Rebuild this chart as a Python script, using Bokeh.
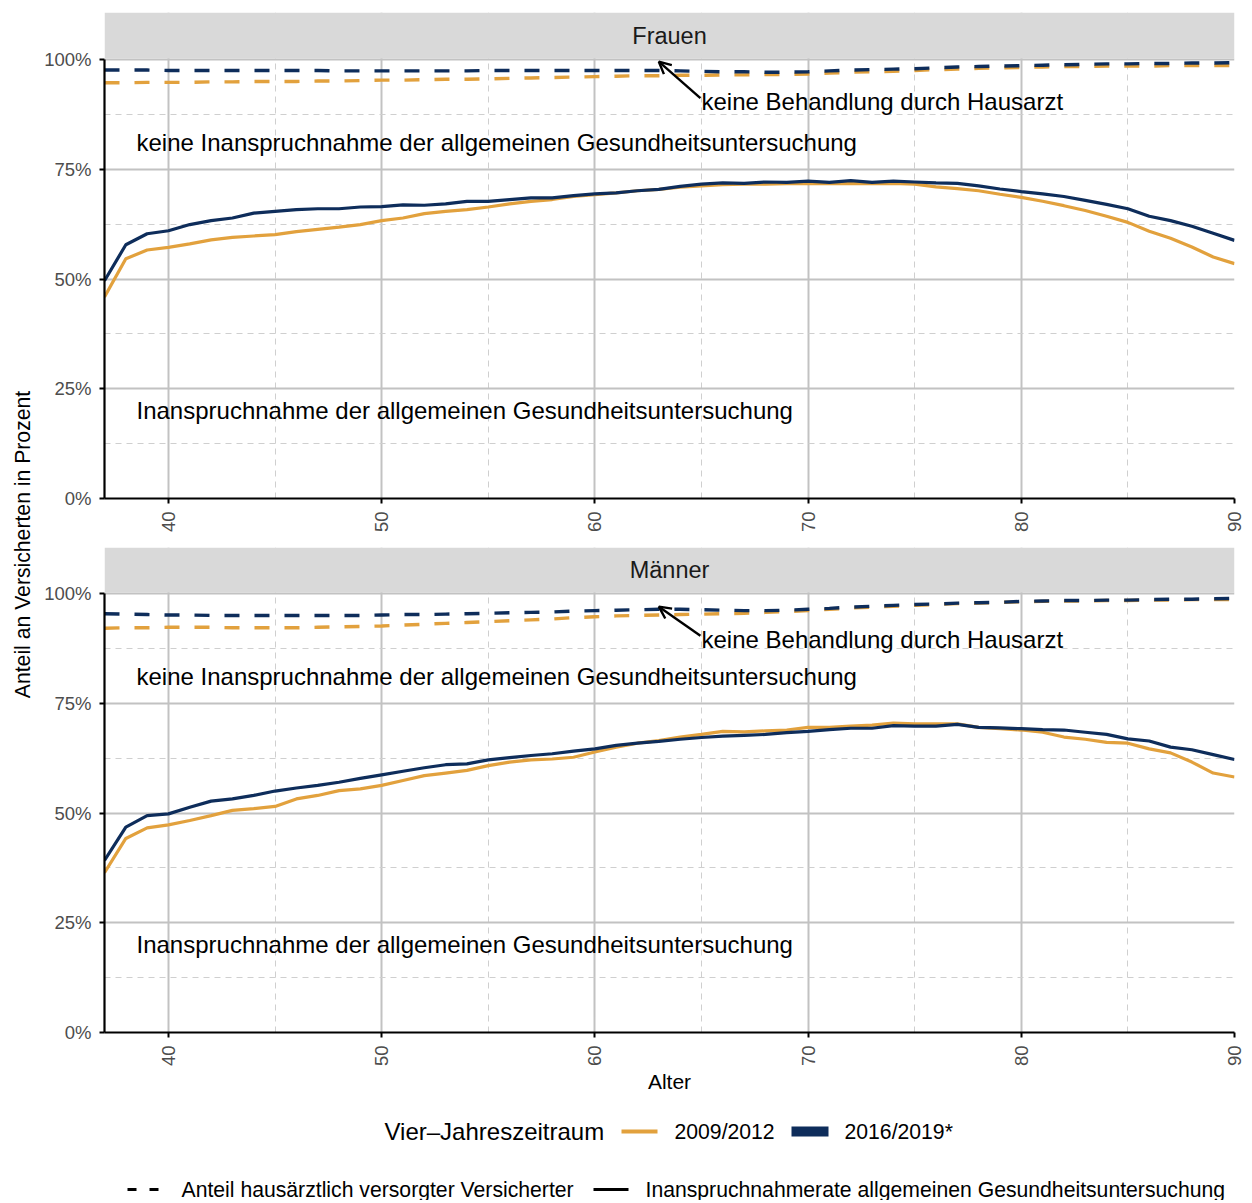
import math
from bokeh.plotting import figure
from bokeh.layouts import column, row
from bokeh.models import Range1d, FixedTicker, Arrow, OpenHead, BoxAnnotation, Label
from bokeh.core.properties import value
from bokeh.embed import file_html
from bokeh.resources import INLINE

# ---------------- data ----------------
ages = list(range(37, 91))

frauen_rate_2009 = [45.9, 54.6, 56.6, 57.2, 58.0, 58.9, 59.5, 59.8, 60.1, 60.8, 61.3, 61.8, 62.4, 63.3,
                    63.9, 64.9, 65.4, 65.8, 66.4, 67.1, 67.7, 68.1, 68.8, 69.2, 69.6, 70.1, 70.4,
                    70.9, 71.2, 71.5, 71.6, 71.6, 71.7, 71.8, 71.7, 71.8, 71.7, 71.8, 71.6, 71.0,
                    70.6, 70.1, 69.3, 68.6, 67.7, 66.7, 65.6, 64.3, 62.9, 60.9, 59.3, 57.3, 55.0, 53.5]
frauen_rate_2016 = [49.6, 57.8, 60.3, 61.0, 62.4, 63.3, 63.9, 65.0, 65.4, 65.8, 66.0, 66.0, 66.4, 66.5,
                    66.9, 66.8, 67.1, 67.7, 67.7, 68.1, 68.5, 68.5, 69.0, 69.4, 69.6, 70.1, 70.4,
                    71.1, 71.6, 71.9, 71.8, 72.1, 72.0, 72.3, 72.0, 72.4, 72.0, 72.3, 72.1, 71.9,
                    71.8, 71.2, 70.5, 69.9, 69.4, 68.8, 67.9, 67.0, 66.0, 64.3, 63.3, 62.0, 60.4, 58.8]
frauen_ha_2009 = [94.7, 94.7, 94.8, 94.8, 94.8, 94.9, 94.9, 95.0, 95.0, 95.0, 95.1, 95.1, 95.2, 95.3,
                  95.3, 95.4, 95.5, 95.5, 95.6, 95.7, 95.8, 95.9, 96.0, 96.1, 96.2, 96.3, 96.3,
                  96.4, 96.4, 96.5, 96.5, 96.6, 96.6, 96.7, 96.9, 97.1, 97.2, 97.3, 97.5, 97.7,
                  97.8, 98.0, 98.1, 98.2, 98.3, 98.4, 98.4, 98.5, 98.5, 98.5, 98.6, 98.6, 98.6, 98.6]
frauen_ha_2016 = [97.6, 97.6, 97.6, 97.5, 97.5, 97.5, 97.5, 97.5, 97.5, 97.5, 97.5, 97.4, 97.4, 97.4,
                  97.4, 97.4, 97.4, 97.4, 97.5, 97.5, 97.5, 97.5, 97.5, 97.5, 97.5, 97.5, 97.5,
                  97.4, 97.3, 97.2, 97.2, 97.1, 97.1, 97.2, 97.4, 97.6, 97.7, 97.8, 97.9, 98.1,
                  98.3, 98.4, 98.5, 98.6, 98.7, 98.8, 98.9, 99.0, 99.0, 99.1, 99.1, 99.2, 99.2, 99.3]

maenner_rate_2009 = [36.4, 44.2, 46.6, 47.3, 48.3, 49.4, 50.6, 51.0, 51.5, 53.2, 54.0, 55.1, 55.5, 56.3,
                     57.4, 58.5, 59.1, 59.7, 60.8, 61.6, 62.1, 62.3, 62.7, 63.9, 65.0, 65.9, 66.5,
                     67.3, 67.9, 68.6, 68.5, 68.7, 68.9, 69.5, 69.5, 69.8, 70.0, 70.5, 70.3, 70.3,
                     70.3, 69.5, 69.2, 68.9, 68.4, 67.3, 66.8, 66.1, 65.9, 64.6, 63.7, 61.6, 59.1, 58.2]
maenner_rate_2016 = [39.2, 46.8, 49.4, 49.8, 51.3, 52.7, 53.2, 54.0, 55.0, 55.7, 56.3, 57.0, 57.9, 58.7,
                     59.5, 60.3, 61.0, 61.2, 62.1, 62.6, 63.1, 63.5, 64.1, 64.6, 65.4, 65.9, 66.3,
                     66.8, 67.2, 67.5, 67.7, 67.9, 68.3, 68.6, 69.0, 69.3, 69.3, 69.9, 69.8, 69.8,
                     70.2, 69.5, 69.4, 69.2, 69.0, 68.9, 68.4, 67.9, 66.9, 66.4, 65.0, 64.4, 63.3, 62.2]
maenner_ha_2009 = [92.1, 92.2, 92.2, 92.3, 92.3, 92.3, 92.2, 92.2, 92.2, 92.2, 92.3, 92.4, 92.5, 92.6,
                   92.8, 93.0, 93.2, 93.4, 93.6, 93.8, 94.0, 94.2, 94.5, 94.7, 94.9, 95.0, 95.1,
                   95.2, 95.3, 95.4, 95.5, 95.7, 95.9, 96.1, 96.4, 96.7, 96.9, 97.1, 97.3, 97.5,
                   97.7, 97.8, 98.0, 98.1, 98.2, 98.3, 98.3, 98.4, 98.4, 98.5, 98.5, 98.6, 98.6, 98.6]
maenner_ha_2016 = [95.4, 95.3, 95.2, 95.1, 95.1, 95.0, 95.0, 95.0, 95.0, 95.0, 95.0, 95.0, 95.0, 95.1,
                   95.2, 95.2, 95.3, 95.4, 95.5, 95.6, 95.7, 95.8, 96.0, 96.1, 96.2, 96.3, 96.4,
                   96.4, 96.3, 96.2, 96.1, 96.1, 96.2, 96.4, 96.6, 96.9, 97.1, 97.3, 97.5, 97.6,
                   97.8, 97.9, 98.0, 98.2, 98.3, 98.4, 98.4, 98.5, 98.5, 98.6, 98.7, 98.7, 98.8, 98.9]

panels = ["Frauen", "Männer"]
periods = ["2009/2012", "2016/2019*"]
x_ticks = [40, 50, 60, 70, 80, 90]
x_minor = [45, 55, 65, 75, 85]
y_ticks = [0, 25, 50, 75, 100]
y_minor = [12.5, 37.5, 62.5, 87.5]
y_labels = {0: "0%", 25: "25%", 50: "50%", 75: "75%", 100: "100%"}

txt_top = "keine Inanspruchnahme der allgemeinen Gesundheitsuntersuchung"
txt_bottom = "Inanspruchnahme der allgemeinen Gesundheitsuntersuchung"
txt_arrow = "keine Behandlung durch Hausarzt"
# annotation anchors (age, percent)
ann_top = (38.5, 81.0)
ann_bottom = (38.5, 20.0)
ann_arrow_text = {"Frauen": (65.0, 90.4), "Männer": (65.0, 89.5)}
ann_arrow = {"Frauen": (64.95, 91.2, 63.0, 99.5), "Männer": (64.95, 90.4, 63.0, 97.0)}

# ---------------- style / layout ----------------
FONT = "Liberation Sans"
ORANGE = "#E2A13D"
NAVY = "#0E2D5B"
STRIP = "#D9D9D9"
YLAB_W = 38
W = 1206
ML, MR = 66, 10
PANEL_PX = 439      # pixel height of 0..100 %
ANN_SIZE = "24px"


def panel(name, rate09, rate16, ha09, ha16, top, strip_px, bottom, xlabel=None):
    frame_px = PANEL_PX + strip_px
    ytop = 100.0 * frame_px / PANEL_PX
    p = figure(width=W, height=top + frame_px + bottom, x_range=Range1d(37, 90),
               y_range=Range1d(0, ytop), output_backend="svg", toolbar_location=None,
               min_border_left=ML, min_border_right=MR, min_border_top=top,
               min_border_bottom=bottom, title=None)
    p.outline_line_color = None
    p.background_fill_color = "white"
    p.border_fill_color = "white"
    p.xaxis.ticker = FixedTicker(ticks=x_ticks, minor_ticks=x_minor)
    p.yaxis.ticker = FixedTicker(ticks=y_ticks, minor_ticks=y_minor)
    p.yaxis.major_label_overrides = y_labels
    p.yaxis.bounds = (0, 100)
    for g in (p.xgrid, p.ygrid):
        g.grid_line_color = "#C2C2C2"
        g.grid_line_width = 2
        g.minor_grid_line_color = "#CFCFCF"
        g.minor_grid_line_width = 1
        g.minor_grid_line_dash = "6 5"
    for a in (p.xaxis, p.yaxis):
        a.axis_line_color = "black"
        a.axis_line_width = 2.2
        a.major_tick_line_color = "black"
        a.major_tick_line_width = 2
        a.major_tick_out = 5
        a.major_tick_in = 0
        a.minor_tick_out = 0
        a.minor_tick_in = 0
        a.major_label_text_font = FONT
        a.major_label_text_font_size = "18.5px"
        a.major_label_text_color = "#4D4D4D"
        a.major_label_standoff = 8
    p.xaxis.major_label_orientation = math.pi / 2
    if xlabel:
        p.xaxis.axis_label = xlabel
        p.xaxis.axis_label_text_font = FONT
        p.xaxis.axis_label_text_font_size = "21px"
        p.xaxis.axis_label_text_font_style = "normal"
        p.xaxis.axis_label_text_color = "black"
        p.xaxis.axis_label_standoff = 1

    p.line(ages, ha09, line_color=ORANGE, line_width=3.4, line_dash="15 15")
    p.line(ages, ha16, line_color=NAVY, line_width=3.4, line_dash="15 15")
    p.line(ages, rate09, line_color=ORANGE, line_width=3.2)
    p.line(ages, rate16, line_color=NAVY, line_width=3.2)

    p.text(x=[ann_top[0]], y=[ann_top[1]], text=[txt_top], text_align="left",
           text_baseline="middle", text_font=value(FONT), text_font_size=ANN_SIZE, text_color="black")
    p.text(x=[ann_bottom[0]], y=[ann_bottom[1]], text=[txt_bottom], text_align="left",
           text_baseline="middle", text_font=value(FONT), text_font_size=ANN_SIZE, text_color="black")
    tx, ty = ann_arrow_text[name]
    p.text(x=[tx], y=[ty], text=[txt_arrow], text_align="left", text_baseline="middle",
           text_font=value(FONT), text_font_size=ANN_SIZE, text_color="black")
    xs, ys, xe, ye = ann_arrow[name]
    p.add_layout(Arrow(end=OpenHead(size=12, line_width=2.4, line_color="black"),
                       x_start=xs, y_start=ys, x_end=xe, y_end=ye,
                       line_width=2.4, line_color="black"))

    # facet strip (grey band above the panel)
    p.add_layout(BoxAnnotation(bottom=100.2, fill_color=STRIP, fill_alpha=1.0, line_color=None))
    p.add_layout(Label(x=63.5, y=(100.2 + ytop) / 2, text=name, text_align="center",
                       text_baseline="middle", text_font=FONT, text_font_size="23.5px",
                       text_color="#1A1A1A"))
    return p


f1 = panel("Frauen", frauen_rate_2009, frauen_rate_2016, frauen_ha_2009, frauen_ha_2016,
           top=12, strip_px=47, bottom=49)
f2 = panel("Männer", maenner_rate_2009, maenner_rate_2016, maenner_ha_2009, maenner_ha_2016,
           top=0, strip_px=46, bottom=68, xlabel="Alter")

H_MAIN = f1.height + f2.height

# y axis title column
ylab = figure(width=YLAB_W, height=H_MAIN, x_range=Range1d(0, YLAB_W), y_range=Range1d(H_MAIN, 0),
              output_backend="svg", toolbar_location=None, x_axis_location=None,
              y_axis_location=None, min_border=0, title=None)
ylab.grid.visible = False
ylab.outline_line_color = None
ylab.text(x=[22], y=[544], text=["Anteil an Versicherten in Prozent"], angle=math.pi / 2,
          text_align="center", text_baseline="middle", text_font=value(FONT),
          text_font_size="21.2px", text_color="black")

# legends
LH = 100
LW = YLAB_W + W
leg = figure(width=LW, height=LH, x_range=Range1d(0, LW), y_range=Range1d(H_MAIN + LH, H_MAIN),
             output_backend="svg", toolbar_location=None, x_axis_location=None,
             y_axis_location=None, min_border=0, title=None)
leg.grid.visible = False
leg.outline_line_color = None
LAB = "21.2px"
r1 = 1131
leg.text(x=[384], y=[r1], text=["Vier–Jahreszeitraum"], text_align="left", text_baseline="middle",
         text_font=value(FONT), text_font_size="24px", text_color="black")
leg.segment(x0=[621], y0=[r1], x1=[657], y1=[r1], line_color=ORANGE, line_width=4)
leg.text(x=[674], y=[r1], text=[periods[0]], text_align="left", text_baseline="middle",
         text_font=value(FONT), text_font_size=LAB, text_color="black")
leg.quad(left=[791], right=[828], top=[r1 - 5], bottom=[r1 + 5], fill_color=NAVY, line_color=None)
leg.text(x=[844], y=[r1], text=[periods[1]], text_align="left", text_baseline="middle",
         text_font=value(FONT), text_font_size=LAB, text_color="black")
r2 = 1189
leg.segment(x0=[127], y0=[r2], x1=[161], y1=[r2], line_color="black", line_width=3, line_dash="9 13")
leg.text(x=[181], y=[r2], text=["Anteil hausärztlich versorgter Versicherter"], text_align="left",
         text_baseline="middle", text_font=value(FONT), text_font_size=LAB, text_color="black")
leg.segment(x0=[593], y0=[r2], x1=[628], y1=[r2], line_color="black", line_width=3)
leg.text(x=[645], y=[r2], text=["Inanspruchnahmerate allgemeinen Gesundheitsuntersuchung"],
         text_align="left", text_baseline="middle", text_font=value(FONT), text_font_size=LAB,
         text_color="black")

layout = column(row(ylab, column(f1, f2)), leg)

open("out.html", "w").write(file_html(layout, INLINE))
